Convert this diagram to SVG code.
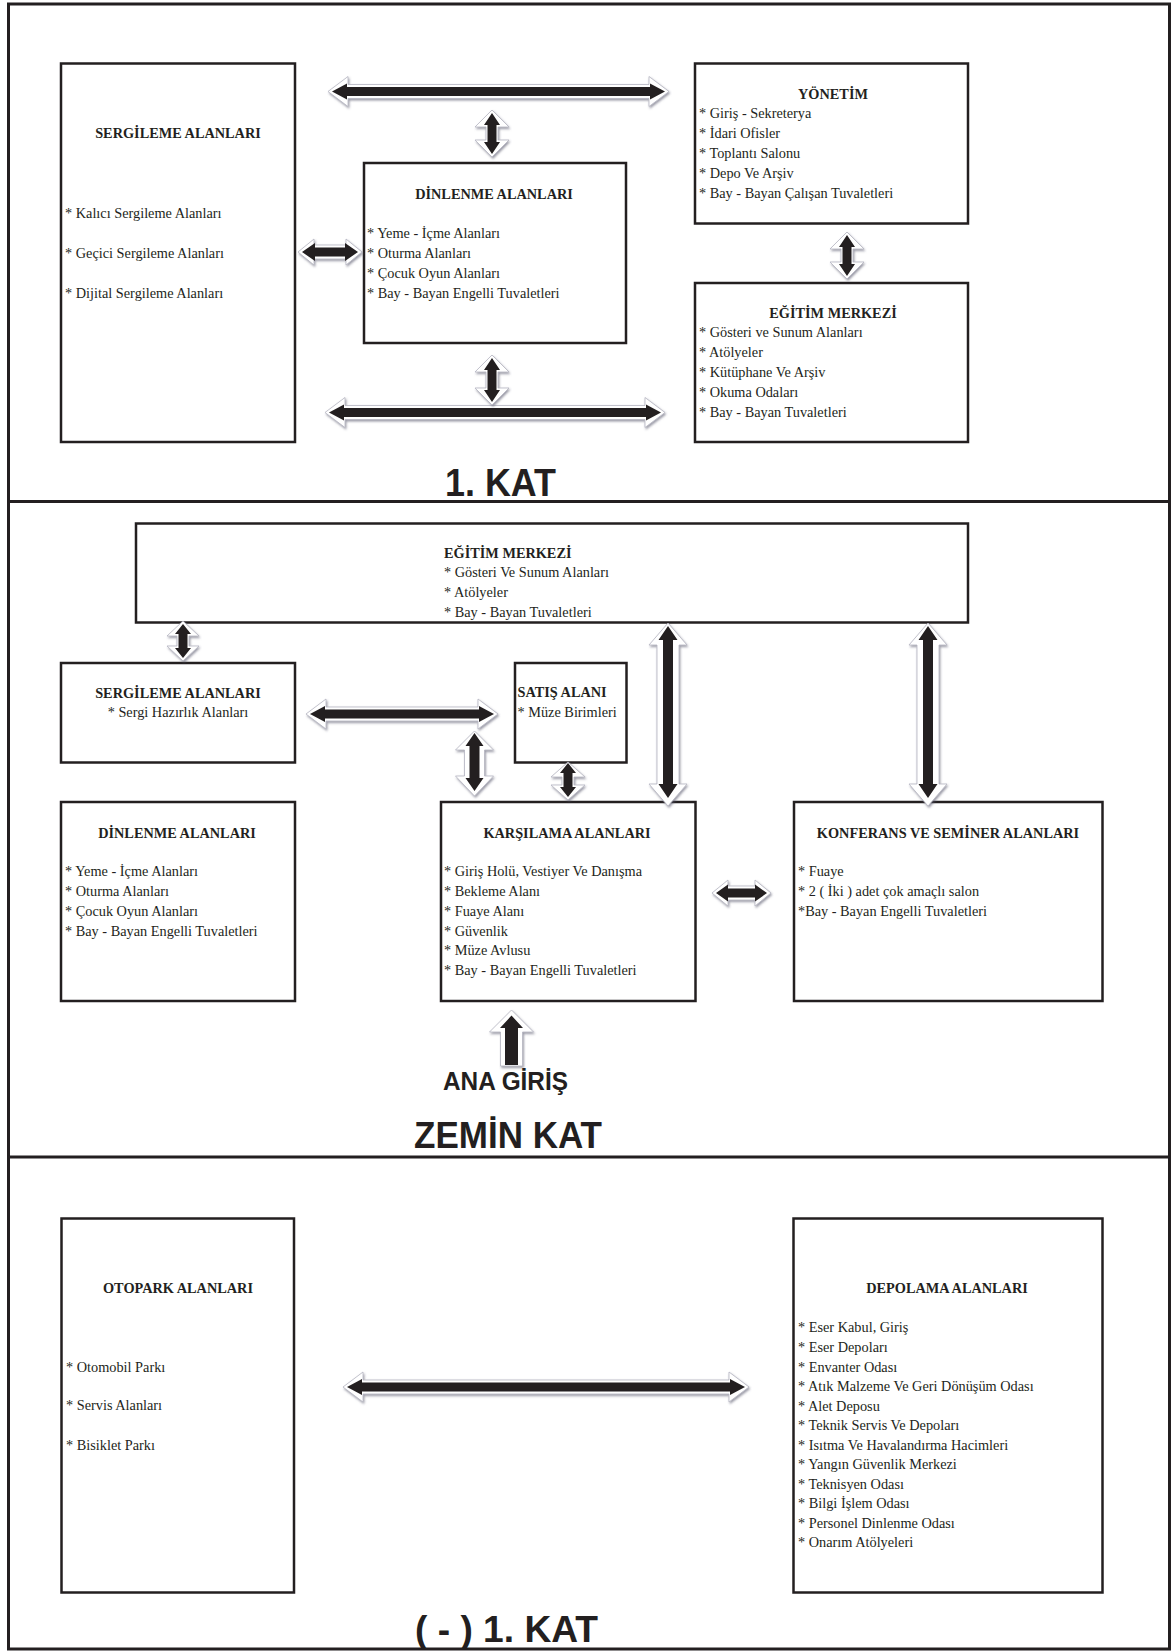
<svg xmlns="http://www.w3.org/2000/svg" width="1174" height="1652" viewBox="0 0 1174 1652">
<defs>
<filter id="sh" x="-30%" y="-30%" width="160%" height="160%">
<feDropShadow dx="1" dy="1.6" stdDeviation="1" flood-color="#55556a" flood-opacity="0.6"/>
</filter>
</defs>
<style>
.frame{fill:none;stroke:#231f20;stroke-width:3}
.box{fill:#fff;stroke:#231f20;stroke-width:2.5}
.t{font-family:"Liberation Serif","Times New Roman",serif;font-size:14.3px;fill:#231f20}
.b{font-weight:bold}
.m{text-anchor:middle}
.h{font-family:"Liberation Sans",Arial,sans-serif;font-weight:bold;fill:#231f20}
.ao{fill:#fff;stroke:#b4b4c0;stroke-width:0.8;filter:url(#sh)}
.ai{fill:#231f20}
</style>
<rect width="1174" height="1652" fill="#fff"/>
<g id="frame">
<rect class="frame" x="8.5" y="4" width="1161" height="1645"/>
<line class="frame" x1="8" y1="501.5" x2="1170" y2="501.5"/>
<line class="frame" x1="8" y1="1157" x2="1170" y2="1157"/>
</g>

<!-- 1. KAT -->
<g id="k1-sergileme">
<rect class="box" x="61" y="63.5" width="234" height="378.5"/>
<text class="t b m" x="178" y="138">SERGİLEME ALANLARI</text>
<text class="t" x="65" y="217.5">* Kalıcı Sergileme Alanları</text>
<text class="t" x="65" y="257.5">* Geçici Sergileme Alanları</text>
<text class="t" x="65" y="297.5">* Dijital Sergileme Alanları</text>
</g>
<g id="k1-dinlenme">
<rect class="box" x="364" y="163" width="262" height="180"/>
<text class="t b m" x="494" y="199">DİNLENME ALANLARI</text>
<text class="t" x="367" y="237.5">* Yeme - İçme Alanları</text>
<text class="t" x="367" y="257.5">* Oturma Alanları</text>
<text class="t" x="367" y="277.5">* Çocuk Oyun Alanları</text>
<text class="t" x="367" y="297.5">* Bay - Bayan Engelli Tuvaletleri</text>
</g>
<g id="k1-yonetim">
<rect class="box" x="695" y="63.5" width="273" height="160"/>
<text class="t b m" x="833" y="99">YÖNETİM</text>
<text class="t" x="699" y="118">* Giriş - Sekreterya</text>
<text class="t" x="699" y="138">* İdari Ofisler</text>
<text class="t" x="699" y="158">* Toplantı Salonu</text>
<text class="t" x="699" y="178">* Depo Ve Arşiv</text>
<text class="t" x="699" y="197.5">* Bay - Bayan Çalışan Tuvaletleri</text>
</g>
<g id="k1-egitim">
<rect class="box" x="695" y="283" width="273" height="159"/>
<text class="t b m" x="833" y="318">EĞİTİM MERKEZİ</text>
<text class="t" x="699" y="337">* Gösteri ve Sunum Alanları</text>
<text class="t" x="699" y="357">* Atölyeler</text>
<text class="t" x="699" y="377">* Kütüphane Ve Arşiv</text>
<text class="t" x="699" y="397">* Okuma Odaları</text>
<text class="t" x="699" y="416.5">* Bay - Bayan Tuvaletleri</text>
</g>

<!-- ZEMIN KAT -->
<g id="z-egitim">
<rect class="box" x="136" y="523.5" width="832" height="99"/>
<text class="t b" x="444" y="558">EĞİTİM MERKEZİ</text>
<text class="t" x="444" y="577">* Gösteri Ve Sunum Alanları</text>
<text class="t" x="444" y="597">* Atölyeler</text>
<text class="t" x="444" y="617">* Bay - Bayan Tuvaletleri</text>
</g>
<g id="z-sergileme">
<rect class="box" x="61" y="663" width="234" height="99.5"/>
<text class="t b m" x="178" y="698">SERGİLEME ALANLARI</text>
<text class="t m" x="178" y="717">* Sergi Hazırlık Alanları</text>
</g>
<g id="z-satis">
<rect class="box" x="515" y="663" width="111.5" height="99.5"/>
<text class="t b" x="517.5" y="697">SATIŞ ALANI</text>
<text class="t" x="517.5" y="717">* Müze Birimleri</text>
</g>
<g id="z-dinlenme">
<rect class="box" x="61" y="802" width="234" height="199"/>
<text class="t b m" x="177" y="838">DİNLENME ALANLARI</text>
<text class="t" x="65" y="875.5">* Yeme - İçme Alanları</text>
<text class="t" x="65" y="895.5">* Oturma Alanları</text>
<text class="t" x="65" y="915.5">* Çocuk Oyun Alanları</text>
<text class="t" x="65" y="935.5">* Bay - Bayan Engelli Tuvaletleri</text>
</g>
<g id="z-karsilama">
<rect class="box" x="441" y="802" width="254.5" height="199"/>
<text class="t b m" x="567" y="838">KARŞILAMA ALANLARI</text>
<text class="t" x="444" y="875.5">* Giriş Holü, Vestiyer Ve Danışma</text>
<text class="t" x="444" y="895.5">* Bekleme Alanı</text>
<text class="t" x="444" y="915.5">* Fuaye Alanı</text>
<text class="t" x="444" y="935.5">* Güvenlik</text>
<text class="t" x="444" y="955">* Müze Avlusu</text>
<text class="t" x="444" y="975">* Bay - Bayan Engelli Tuvaletleri</text>
</g>
<g id="z-konferans">
<rect class="box" x="794" y="802" width="308.5" height="199"/>
<text class="t b m" x="948" y="838">KONFERANS VE SEMİNER ALANLARI</text>
<text class="t" x="798" y="876">* Fuaye</text>
<text class="t" x="798" y="896">* 2 ( İki ) adet çok amaçlı salon</text>
<text class="t" x="798" y="916">*Bay - Bayan Engelli Tuvaletleri</text>
</g>

<!-- (-) 1. KAT -->
<g id="b-otopark">
<rect class="box" x="61.5" y="1218.5" width="232.5" height="374"/>
<text class="t b m" x="178" y="1293">OTOPARK ALANLARI</text>
<text class="t" x="66" y="1371.5">* Otomobil Parkı</text>
<text class="t" x="66" y="1410">* Servis Alanları</text>
<text class="t" x="66" y="1449.5">* Bisiklet Parkı</text>
</g>
<g id="b-depolama">
<rect class="box" x="793.5" y="1218.5" width="309" height="374"/>
<text class="t b m" x="947" y="1293">DEPOLAMA ALANLARI</text>
<text class="t" x="798" y="1331.5">* Eser Kabul, Giriş</text>
<text class="t" x="798" y="1351.5">* Eser Depoları</text>
<text class="t" x="798" y="1371.5">* Envanter Odası</text>
<text class="t" x="798" y="1391">* Atık Malzeme Ve Geri Dönüşüm Odası</text>
<text class="t" x="798" y="1410.5">* Alet Deposu</text>
<text class="t" x="798" y="1430">* Teknik Servis Ve Depoları</text>
<text class="t" x="798" y="1449.5">* Isıtma Ve Havalandırma Hacimleri</text>
<text class="t" x="798" y="1469">* Yangın Güvenlik Merkezi</text>
<text class="t" x="798" y="1488.5">* Teknisyen Odası</text>
<text class="t" x="798" y="1508">* Bilgi İşlem Odası</text>
<text class="t" x="798" y="1527.5">* Personel Dinlenme Odası</text>
<text class="t" x="798" y="1547">* Onarım Atölyeleri</text>
</g>

<g id="connectors">
<path class="ao" d="M328,91.5 L348,76.5 L348,84.5 L649,84.5 L649,76.5 L669,91.5 L649,106.5 L649,98.5 L348,98.5 L348,106.5 Z"/>
<path class="ai" d="M332,91.5 L347,83.5 L347,87 L650,87 L650,83.5 L665,91.5 L650,99.5 L650,96 L347,96 L347,99.5 Z"/>
<path class="ao" d="M325,412.5 L345,397.5 L345,405.5 L645,405.5 L645,397.5 L665,412.5 L645,427.5 L645,419.5 L345,419.5 L345,427.5 Z"/>
<path class="ai" d="M329,412.5 L344,404.5 L344,408 L646,408 L646,404.5 L661,412.5 L646,420.5 L646,417 L344,417 L344,420.5 Z"/>
<path class="ao" d="M298,252 L314,239 L314,245 L346,245 L346,239 L362,252 L346,265 L346,259 L314,259 L314,265 Z"/>
<path class="ai" d="M302,252 L315,243 L315,247.5 L345,247.5 L345,243 L358,252 L345,261 L345,256.5 L315,256.5 L315,261 Z"/>
<path class="ao" d="M492,110 L509,127 L498,127 L498,140 L509,140 L492,157 L475,140 L486,140 L486,127 L475,127 Z"/>
<path class="ai" d="M492,113 L500,125 L496.5,125 L496.5,142 L500,142 L492,154 L484,142 L487.5,142 L487.5,125 L484,125 Z"/>
<path class="ao" d="M492,355 L509,372 L498,372 L498,388 L509,388 L492,405 L475,388 L486,388 L486,372 L475,372 Z"/>
<path class="ai" d="M492,358 L500,370 L496.5,370 L496.5,390 L500,390 L492,402 L484,390 L487.5,390 L487.5,370 L484,370 Z"/>
<path class="ao" d="M847,232 L864,249 L853,249 L853,262 L864,262 L847,279 L830,262 L841,262 L841,249 L830,249 Z"/>
<path class="ai" d="M847,235 L855,247 L851.5,247 L851.5,264 L855,264 L847,276 L839,264 L842.5,264 L842.5,247 L839,247 Z"/>
<path class="ao" d="M183,621 L199,636 L189,636 L189,646 L199,646 L183,661 L167,646 L177,646 L177,636 L167,636 Z"/>
<path class="ai" d="M183,624 L191,634 L187.5,634 L187.5,648 L191,648 L183,658 L175,648 L178.5,648 L178.5,634 L175,634 Z"/>
<path class="ao" d="M474.5,731 L493.5,750 L484.5,750 L484.5,776 L493.5,776 L474.5,796 L455.5,776 L464.5,776 L464.5,750 L455.5,750 Z"/>
<path class="ai" d="M474.5,733 L483.5,746 L479.5,746 L479.5,778 L483.5,778 L474.5,791 L465.5,778 L469.5,778 L469.5,746 L465.5,746 Z"/>
<path class="ao" d="M568,762 L585,777 L574,777 L574,785 L585,785 L568,800 L551,785 L562,785 L562,777 L551,777 Z"/>
<path class="ai" d="M568,763 L576,773 L572.5,773 L572.5,787 L576,787 L568,797 L560,787 L563.5,787 L563.5,773 L560,773 Z"/>
<path class="ao" d="M668,623 L687,645 L679,645 L679,784 L687,784 L668,806 L649,784 L657,784 L657,645 L649,645 Z"/>
<path class="ai" d="M668,626 L677.5,640 L673,640 L673,784 L677.5,784 L668,798 L658.5,784 L663,784 L663,640 L658.5,640 Z"/>
<path class="ao" d="M928,623 L947,645 L939,645 L939,784 L947,784 L928,806 L909,784 L917,784 L917,645 L909,645 Z"/>
<path class="ai" d="M928,626 L937.5,640 L933,640 L933,784 L937.5,784 L928,798 L918.5,784 L923,784 L923,640 L918.5,640 Z"/>
<path class="ao" d="M306,714 L326,699 L326,707 L478,707 L478,699 L498,714 L478,729 L478,721 L326,721 L326,729 Z"/>
<path class="ai" d="M310,714 L325,706 L325,709.5 L479,709.5 L479,706 L494,714 L479,722 L479,718.5 L325,718.5 L325,722 Z"/>
<path class="ao" d="M712,893 L728,880 L728,886 L755,886 L755,880 L771,893 L755,906 L755,900 L728,900 L728,906 Z"/>
<path class="ai" d="M716,893 L728,884.5 L728,888.5 L755,888.5 L755,884.5 L767,893 L755,901.5 L755,897.5 L728,897.5 L728,901.5 Z"/>
<path class="ao" d="M511.5,1010 L533.5,1032 L522.5,1032 L522.5,1066 L500.5,1066 L500.5,1032 L489.5,1032 Z"/>
<path class="ai" d="M511.5,1015.5 L523,1028 L518,1028 L518,1065 L505,1065 L505,1028 L500,1028 Z"/>
<path class="ao" d="M343,1387 L363,1372 L363,1380 L729,1380 L729,1372 L749,1387 L729,1402 L729,1394 L363,1394 L363,1402 Z"/>
<path class="ai" d="M347,1387 L362,1379 L362,1382.5 L730,1382.5 L730,1379 L745,1387 L730,1395 L730,1391.5 L362,1391.5 L362,1395 Z"/>
</g>

<g id="labels">
<text class="h" x="445" y="496" font-size="38" textLength="111" lengthAdjust="spacingAndGlyphs">1. KAT</text>
<text class="h" x="443" y="1090" font-size="26" textLength="125" lengthAdjust="spacingAndGlyphs">ANA GİRİŞ</text>
<text class="h" x="414" y="1148" font-size="36" textLength="188" lengthAdjust="spacingAndGlyphs">ZEMİN KAT</text>
<text class="h" x="415" y="1642" font-size="36" textLength="183" lengthAdjust="spacingAndGlyphs">( - ) 1. KAT</text>
</g>
</svg>
